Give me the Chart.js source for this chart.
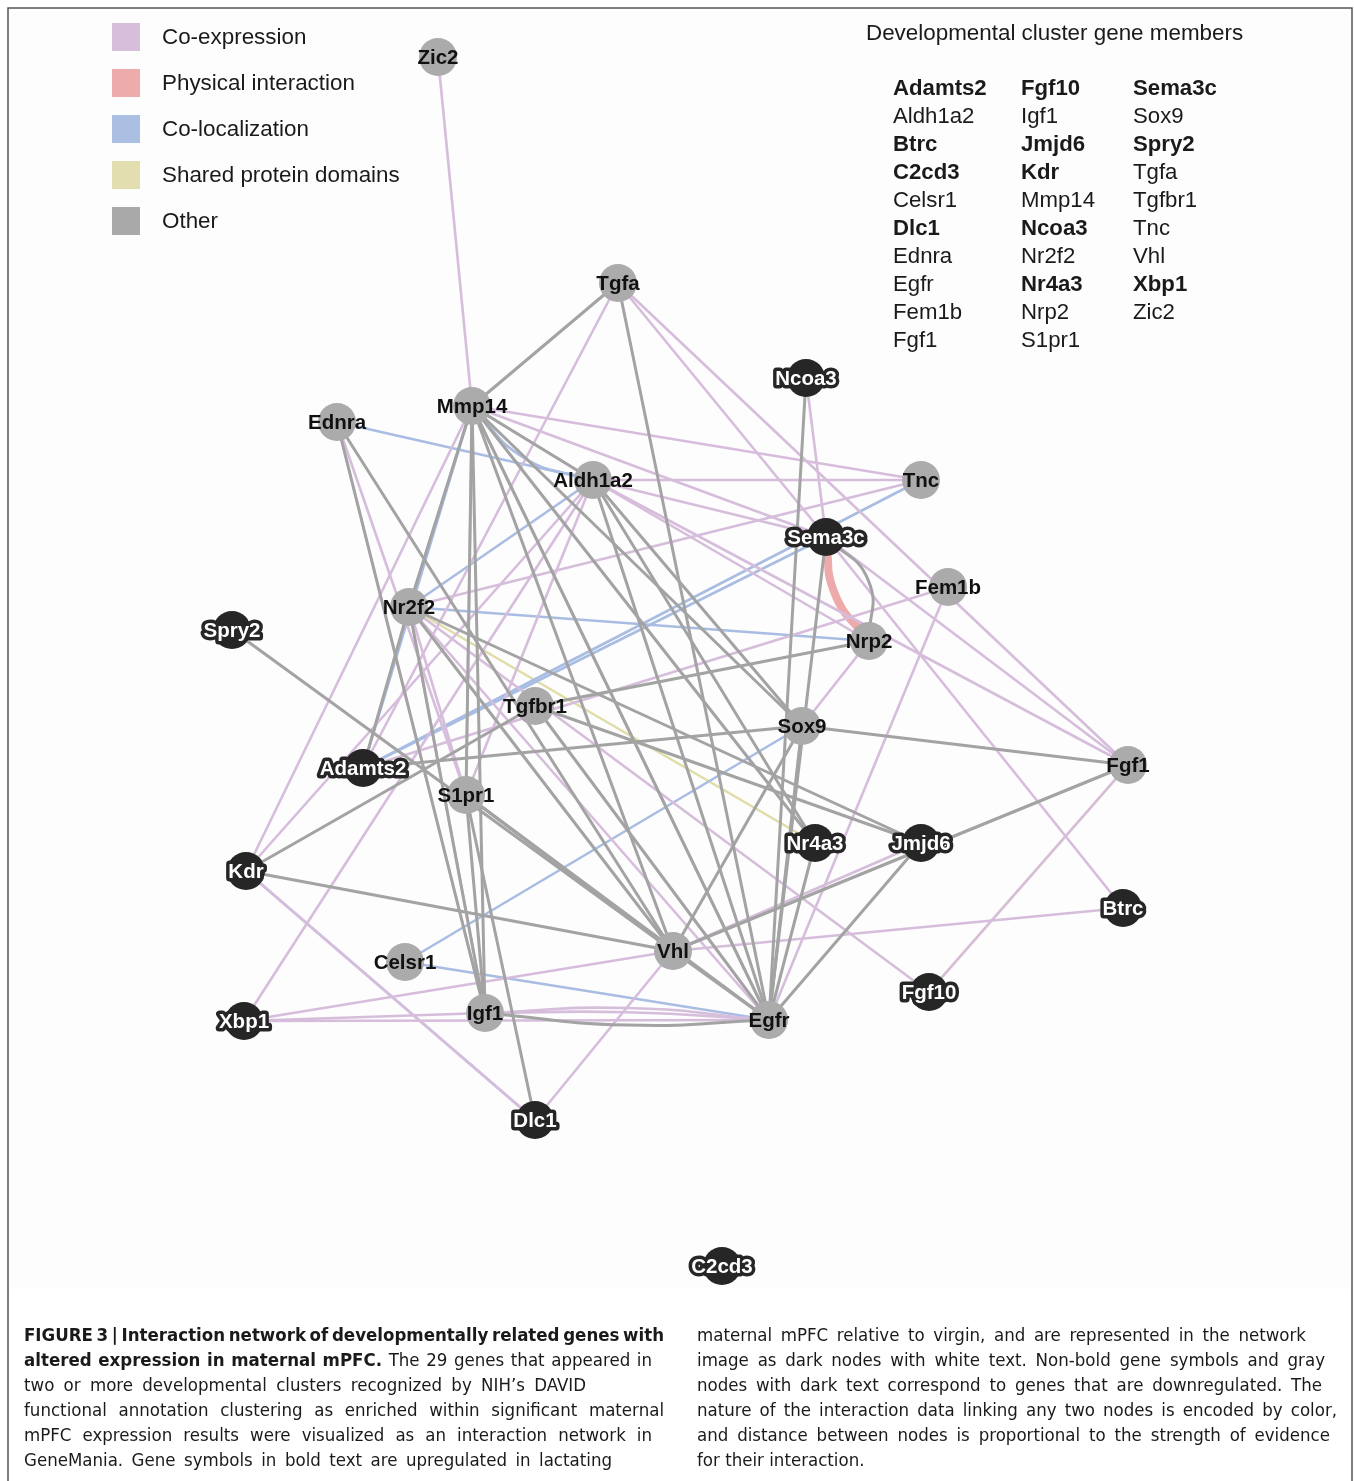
<!DOCTYPE html>
<html>
<head>
<meta charset="utf-8">
<script src="https://cdn.jsdelivr.net/npm/chart.js@4.4.1/dist/chart.umd.min.js"></script>
<style>
  html, body { margin: 0; padding: 0; background: #ffffff; }
  #wrap { position: relative; width: 1354px; height: 1481px; }
</style>
</head>
<body>
<div id="wrap"><canvas id="net" width="1354" height="1481"></canvas></div>
<script>
// ---- genes (network nodes) ----
const geneNames = ['Zic2','Tgfa','Mmp14','Ednra','Aldh1a2','Ncoa3','Tnc','Sema3c','Fem1b','Nrp2',
                   'Nr2f2','Spry2','Tgfbr1','Sox9','Adamts2','S1pr1','Fgf1','Nr4a3','Jmjd6','Kdr',
                   'Btrc','Vhl','Celsr1','Fgf10','Igf1','Xbp1','Egfr','Dlc1','C2cd3'];
const geneX = [438,618,472,337,593,806,921,826,948,869,
               409,232,535,802,363,466,1128,815,921,246,
               1123,673,405,929,485,244,769,535,722];
const geneY = [57,283,406,422,480,378,480,537,587,641,
               607,630,706,726,768,795,765,843,843,871,
               908,951,962,992,1013,1021,1020,1120,1266];
// 1 = upregulated in lactating mPFC (dark node), 0 = downregulated (gray node)
const geneUp = [0,0,0,0,0,1,0,1,0,0,
                0,1,0,0,1,0,0,1,1,1,
                1,0,0,1,0,1,0,1,1];

// ---- interactions, one list per evidence type ----
const edgesCoexpression = [
  ['Zic2','Mmp14'],['Tgfa','Adamts2'],['Tgfa','Sema3c'],['Tgfa','Fgf1'],
  ['Mmp14','Tnc'],['Mmp14','Aldh1a2'],['Mmp14','Kdr'],['Mmp14','S1pr1'],['Mmp14','Egfr'],['Mmp14','Sema3c'],
  ['Ednra','S1pr1'],['Ednra','Igf1'],
  ['Aldh1a2','Tnc'],['Aldh1a2','Sema3c'],['Aldh1a2','Nrp2'],['Aldh1a2','Fgf1'],['Aldh1a2','S1pr1'],
  ['Aldh1a2','Xbp1'],['Aldh1a2','Kdr'],
  ['Tnc','Nr2f2'],['Nr2f2','S1pr1'],['Nr2f2','Egfr'],['Nr2f2','Fgf10'],['Nr2f2','Igf1'],
  ['Kdr','Dlc1'],['Xbp1','Igf1'],['Xbp1','Egfr'],['Xbp1','Vhl'],
  ['Dlc1','Vhl'],['Vhl','Jmjd6'],['Vhl','Fgf1'],['Vhl','Btrc'],
  ['Sema3c','Fgf1'],['Sema3c','Btrc'],['Ncoa3','Sema3c'],
  ['Fem1b','Egfr'],['Fem1b','Adamts2'],['Fgf1','Fgf10'],['Nrp2','Sox9'],['Sox9','Egfr']
];
const edgesCoexpressionCurved = [['Igf1','Egfr',-0.03],['Igf1','Egfr',-0.015]];
const edgesPhysical = [['Sema3c','Nrp2',0.12]];
const edgesColocalization = [
  ['Ednra','Aldh1a2'],['Mmp14','Nr2f2'],['Mmp14','Adamts2'],['Nr2f2','Aldh1a2'],
  ['Nr2f2','Nrp2'],['Adamts2','Tnc'],['Adamts2','Sema3c'],['Kdr','Dlc1'],
  ['Celsr1','Egfr'],['Celsr1','Sox9']
];
const edgesColocalizationCurved = [['Mmp14','Aldh1a2',0.12]];
const edgesDomains = [['Nr2f2','Nr4a3'],['Fgf1','Fgf10']];
const edgesOther = [
  ['Tgfa','Mmp14'],['Tgfa','Egfr'],
  ['Mmp14','Aldh1a2'],['Mmp14','Nr2f2'],['Mmp14','S1pr1'],['Mmp14','Igf1'],['Mmp14','Vhl'],
  ['Mmp14','Egfr'],['Mmp14','Sox9'],['Mmp14','Nr4a3'],
  ['Ednra','Igf1'],['Ednra','Vhl'],
  ['Aldh1a2','Egfr'],['Aldh1a2','Sox9'],['Aldh1a2','Nr4a3'],
  ['Nr2f2','Igf1'],['Nr2f2','Jmjd6'],['Nr2f2','Vhl'],['Nr2f2','Adamts2'],
  ['Spry2','Vhl'],['Adamts2','Sox9'],['Kdr','Tgfbr1'],['Kdr','Vhl'],
  ['Tgfbr1','Nrp2'],['Tgfbr1','Jmjd6'],['Tgfbr1','Egfr'],
  ['S1pr1','Igf1'],['S1pr1','Dlc1'],['S1pr1','Vhl'],['S1pr1','Egfr'],
  ['Ncoa3','Egfr'],['Sema3c','Egfr'],
  ['Sox9','Fgf1'],['Sox9','Vhl'],['Sox9','Egfr'],
  ['Vhl','Egfr'],['Vhl','Fgf1'],['Jmjd6','Egfr'],['Nr4a3','Egfr']
];
const edgesOtherCurved = [['Igf1','Egfr',0.03],['Sema3c','Nrp2',-0.2]];

// ---- legend and member list ----
const legendLabels = ['Co-expression','Physical interaction','Co-localization','Shared protein domains','Other'];
const legendColors = ['#d7bfdb','#eeabab','#abbfe2','#e2deb0','#a9a9a9'];
const memberTitle = 'Developmental cluster gene members';
const memberColumns = [
  ['Adamts2','Aldh1a2','Btrc','C2cd3','Celsr1','Dlc1','Ednra','Egfr','Fem1b','Fgf1'],
  ['Fgf10','Igf1','Jmjd6','Kdr','Mmp14','Ncoa3','Nr2f2','Nr4a3','Nrp2','S1pr1'],
  ['Sema3c','Sox9','Spry2','Tgfa','Tgfbr1','Tnc','Vhl','Xbp1','Zic2']
];
const captionLeft = [
  [['FIGURE 3 | Interaction network of developmentally related genes with', true]],
  [['altered expression in maternal mPFC.', true], [' The 29 genes that appeared in', false]],
  [['two or more developmental clusters recognized by NIH\u2019s DAVID', false]],
  [['functional annotation clustering as enriched within significant maternal', false]],
  [['mPFC expression results were visualized as an interaction network in', false]],
  [['GeneMania. Gene symbols in bold text are upregulated in lactating', false]]
];
const captionRight = [
  [['maternal mPFC relative to virgin, and are represented in the network', false]],
  [['image as dark nodes with white text. Non-bold gene symbols and gray', false]],
  [['nodes with dark text correspond to genes that are downregulated. The', false]],
  [['nature of the interaction data linking any two nodes is encoded by color,', false]],
  [['and distance between nodes is proportional to the strength of evidence', false]],
  [['for their interaction.', false]]
];

// ---- building the datasets ----
const idx = n => geneNames.indexOf(n);
const pt = n => ({ x: geneX[idx(n)], y: geneY[idx(n)] });

function edgeDataset(a, b, color, width, bend) {
  const p = pt(a), q = pt(b);
  let data = [p, q], tension = 0;
  if (bend) {
    const dx = q.x - p.x, dy = q.y - p.y;
    data = [p, { x: (p.x + q.x) / 2 - dy * bend, y: (p.y + q.y) / 2 + dx * bend }, q];
    tension = 0.5;
  }
  return { type: 'line', data, borderColor: color, borderWidth: width, pointRadius: 0,
           pointHoverRadius: 0, fill: false, tension, order: 1, borderCapStyle: 'round' };
}

const datasets = [];
datasets.push({
  type: 'scatter', order: 0,
  data: geneNames.map((n, i) => ({ x: geneX[i], y: geneY[i] })),
  pointRadius: 19, pointHoverRadius: 19, borderWidth: 0,
  backgroundColor: geneUp.map(u => u ? '#262626' : '#ababab')
});
edgesOther.forEach(e => datasets.push(edgeDataset(e[0], e[1], '#a3a3a3', 3)));
edgesOtherCurved.forEach(e => datasets.push(edgeDataset(e[0], e[1], '#a3a3a3', 3, e[2])));
edgesCoexpression.forEach(e => datasets.push(edgeDataset(e[0], e[1], '#d6bddb', 2.6)));
edgesCoexpressionCurved.forEach(e => datasets.push(edgeDataset(e[0], e[1], '#d6bddb', 2.6, e[2])));
edgesColocalization.forEach(e => datasets.push(edgeDataset(e[0], e[1], '#a9bde3', 2.6)));
edgesColocalizationCurved.forEach(e => datasets.push(edgeDataset(e[0], e[1], '#a9bde3', 2.6, e[2])));
edgesDomains.forEach(e => datasets.push(edgeDataset(e[0], e[1], '#e0dda9', 2.6)));
edgesPhysical.forEach(e => datasets.push(edgeDataset(e[0], e[1], '#eeaaaa', 8, e[2])));

const SANS = '"Liberation Sans", Arial, Helvetica, sans-serif';
const NARROW = '"Liberation Sans Narrow", "DejaVu Sans Condensed", "Liberation Sans", sans-serif';

// gene symbols on top of the nodes
const nodeLabels = {
  id: 'nodeLabels',
  afterDatasetsDraw(chart) {
    const { ctx, scales } = chart;
    ctx.save();
    ctx.font = 'bold 20.5px ' + SANS;
    ctx.textAlign = 'center';
    ctx.textBaseline = 'middle';
    ctx.lineJoin = 'round';
    geneNames.forEach((n, i) => {
      const x = scales.x.getPixelForValue(geneX[i]);
      const y = scales.y.getPixelForValue(geneY[i]);
      if (geneUp[i]) {
        ctx.lineWidth = 7;
        ctx.strokeStyle = '#262626';
        ctx.strokeText(n, x, y + 1);
        ctx.fillStyle = '#ffffff';
      } else {
        ctx.fillStyle = '#111111';
      }
      ctx.fillText(n, x, y + 1);
    });
    ctx.restore();
  }
};

function drawJustified(ctx, segments, x0, y, width, size) {
  const words = [];
  segments.forEach(([txt, bold]) => {
    txt.split(' ').forEach(w => { if (w !== '') words.push({ w, bold }); });
  });
  const fontOf = b => (b ? 'bold ' : '') + size + 'px ' + NARROW;
  let total = 0;
  words.forEach(o => { ctx.font = fontOf(o.bold); o.width = ctx.measureText(o.w).width; total += o.width; });
  ctx.font = fontOf(false);
  const space = ctx.measureText(' ').width;
  const gaps = words.length - 1;
  let gap = space, sx = 1;
  if (width) {
    gap = (width - total) / gaps;
    if (gap < space * 0.6) { gap = space * 0.6; sx = width / (total + gap * gaps); }
  }
  ctx.save();
  ctx.translate(x0, y);
  ctx.scale(sx, 1);
  let x = 0;
  words.forEach(o => {
    ctx.font = fontOf(o.bold);
    ctx.fillText(o.w, x, 0);
    x += o.width + gap;
  });
  ctx.restore();
}

// frame, legend, member list and caption
const figureText = {
  id: 'figureText',
  beforeDatasetsDraw(chart) {
    const { ctx } = chart;
    ctx.save();
    ctx.fillStyle = '#fdfdfd';
    ctx.fillRect(9, 9, 1342, 1280);
    ctx.restore();
  },
  afterDraw(chart) {
    const { ctx } = chart;
    ctx.save();
    ctx.strokeStyle = '#555555';
    ctx.lineWidth = 1.5;
    ctx.beginPath();
    ctx.moveTo(8, 1481); ctx.lineTo(8, 8); ctx.lineTo(1352, 8); ctx.lineTo(1352, 1481);
    ctx.stroke();

    // legend
    ctx.textBaseline = 'middle';
    ctx.textAlign = 'left';
    legendLabels.forEach((l, i) => {
      const cy = 37 + i * 46;
      ctx.fillStyle = legendColors[i];
      ctx.fillRect(112, cy - 14, 28, 28);
      ctx.fillStyle = '#1a1a1a';
      ctx.font = '22.4px ' + SANS;
      ctx.fillText(l, 162, cy + 1);
    });

    // member list
    ctx.fillStyle = '#1a1a1a';
    ctx.font = '22.4px ' + SANS;
    ctx.fillText(memberTitle, 866, 34);
    const colX = [893, 1021, 1133];
    memberColumns.forEach((col, c) => {
      col.forEach((g, r) => {
        const up = geneUp[idx(g)];
        ctx.font = (up ? 'bold ' : '') + '22.2px ' + SANS;
        ctx.fillText(g, colX[c], 89 + r * 28);
      });
    });

    // caption
    ctx.fillStyle = '#1a1a1a';
    ctx.textBaseline = 'middle';
    const leftW = [640, 628, 562, 640, 628, 588];
    const rightW = [609, 628, 625, 640, 633, null];
    captionLeft.forEach((segs, i) => drawJustified(ctx, segs, 24, 1336 + i * 25, leftW[i], 18.5));
    captionRight.forEach((segs, i) => drawJustified(ctx, segs, 697, 1336 + i * 25, rightW[i], 18.5));
    ctx.restore();
  }
};

new Chart(document.getElementById('net'), {
  type: 'scatter',
  data: { datasets },
  options: {
    responsive: false,
    animation: false,
    events: [],
    layout: { padding: 0, autoPadding: false },
    plugins: { legend: { display: false }, tooltip: { enabled: false } },
    scales: {
      x: { type: 'linear', min: 0, max: 1354, display: false },
      y: { type: 'linear', min: 0, max: 1481, reverse: true, display: false }
    }
  },
  plugins: [figureText, nodeLabels]
});
</script>
</body>
</html>
